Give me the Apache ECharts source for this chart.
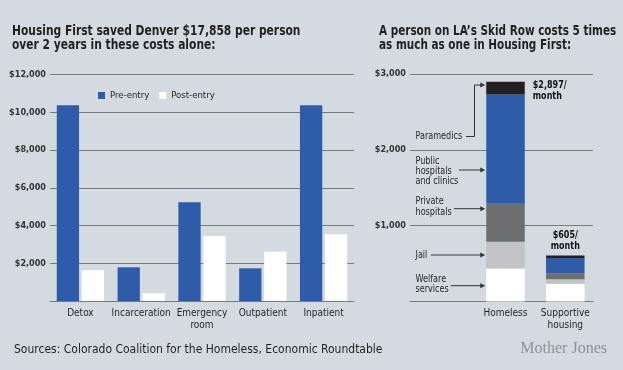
<!DOCTYPE html>
<html>
<head>
<meta charset="utf-8">
<script src="https://cdn.jsdelivr.net/npm/echarts@6/dist/echarts.min.js"></script>
<style>
html,body{margin:0;padding:0;background:#d3dbe1;}
#c{width:623px;height:370px;}
</style>
</head>
<body>
<div id="c"></div>
<script>
// ---- Data ----
const denverCategories = ['Detox', 'Incarceration', 'Emergency\nroom', 'Outpatient', 'Inpatient'];
const preEntry = [10370, 1785, 5230, 1730, 10370];
const postEntry = [1630, 410, 3445, 2610, 3532];

const laCategories = ['Homeless', 'Supportive\nhousing'];
const welfareServices = [434, 233];
const jail = [355, 62];
const privateHospitals = [500, 79];
const publicHospitals = [1440, 201];
const paramedics = [168, 30];
const monthlyTotals = [2897, 605];

// ---- Styles ----
const FONT = "'DejaVu Sans Condensed','Liberation Sans Narrow','Open Sans',sans-serif";
const INK = '#231f20';
const GRIDC = '#767b80';
const BLUE = '#2e5ca8';
const LA_BAR = 38.5;

function money(v) { return v === 0 ? '' : '$' + v.toLocaleString('en-US'); }

const chart = echarts.init(document.getElementById('c'), null, {renderer: 'canvas'});

const valueAxisCommon = {
  axisLine: {show: false},
  axisTick: {show: false},
  splitLine: {lineStyle: {color: GRIDC, width: 1}},
  axisLabel: {formatter: money, color: '#333', fontFamily: FONT, fontWeight: 'bold', fontSize: 9, margin: 4}
};
const catLabel = {color: INK, fontFamily: FONT, fontSize: 10, margin: 6, lineHeight: 12, interval: 0};

const option = {
  backgroundColor: '#d3dbe1',
  animation: false,
  legend: {
    data: ['Pre-entry', 'Post-entry'], left: 98, top: 90.5, padding: 0, icon: 'rect', itemWidth: 7, itemHeight: 7, itemGap: 10,
    textStyle: {fontFamily: FONT, fontSize: 9.5, color: INK}
  },
  grid: [
    {left: 50, top: 74.5, width: 304, height: 226.5},
    {left: 410, top: 74, width: 183, height: 227.5},
    {left: 475.6, top: 74, width: 119.6, height: 227.5}
  ],
  xAxis: [
    {gridIndex: 0, type: 'category', data: denverCategories,
     axisLine: {lineStyle: {color: GRIDC}}, axisTick: {show: false}, axisLabel: catLabel},
    {gridIndex: 1, type: 'category', data: [''],
     axisLine: {lineStyle: {color: GRIDC}}, axisTick: {show: false}, axisLabel: {show: false}},
    {gridIndex: 2, type: 'category', data: laCategories,
     axisLine: {show: false}, axisTick: {show: false}, axisLabel: catLabel}
  ],
  yAxis: [
    Object.assign({gridIndex: 0, type: 'value', min: 0, max: 12000, interval: 2000}, valueAxisCommon),
    Object.assign({gridIndex: 1, type: 'value', min: 0, max: 3000, interval: 1000}, valueAxisCommon),
    {gridIndex: 2, type: 'value', min: 0, max: 3000, interval: 1000, show: false}
  ],
  series: [
    {name: 'Pre-entry', type: 'bar', xAxisIndex: 0, yAxisIndex: 0, data: preEntry,
     barWidth: 22.3, barGap: '12%', itemStyle: {color: BLUE}},
    {name: 'Post-entry', type: 'bar', xAxisIndex: 0, yAxisIndex: 0, data: postEntry,
     barWidth: 22.3, barGap: '12%', itemStyle: {color: '#ffffff'}},
    {name: 'Welfare services', type: 'bar', stack: 'la', xAxisIndex: 2, yAxisIndex: 2, data: welfareServices,
     barWidth: LA_BAR, itemStyle: {color: '#ffffff'}},
    {name: 'Jail', type: 'bar', stack: 'la', xAxisIndex: 2, yAxisIndex: 2, data: jail,
     barWidth: LA_BAR, itemStyle: {color: '#c1c3c6'}},
    {name: 'Private hospitals', type: 'bar', stack: 'la', xAxisIndex: 2, yAxisIndex: 2, data: privateHospitals,
     barWidth: LA_BAR, itemStyle: {color: '#6d6e70'}},
    {name: 'Public hospitals and clinics', type: 'bar', stack: 'la', xAxisIndex: 2, yAxisIndex: 2, data: publicHospitals,
     barWidth: LA_BAR, itemStyle: {color: BLUE}},
    {name: 'Paramedics', type: 'bar', stack: 'la', xAxisIndex: 2, yAxisIndex: 2, data: paramedics,
     barWidth: LA_BAR, itemStyle: {color: INK}}
  ]
};
chart.setOption(option);

// ---- Text & annotations ----
function T(text, x, y, o) {
  o = o || {};
  return {type: 'text', x: x, y: y, scaleX: o.scaleX || 1, z: 10,
    style: {text: text, fontFamily: o.fontFamily || FONT, fontSize: o.fontSize || 10, fontWeight: o.fontWeight || 'normal',
      fill: o.fill || INK, align: o.align || 'left', verticalAlign: 'middle', lineHeight: o.lineHeight || 10}};
}
const els = [];
const titleOpt = {fontSize: 14.5, fontWeight: 'bold', scaleX: 0.82};
const titleOptR = {fontSize: 14.5, fontWeight: 'bold', scaleX: 0.80};
els.push(T('Housing First saved Denver $17,858 per person', 12, 31.5, titleOpt));
els.push(T('over 2 years in these costs alone:', 12, 45.5, titleOpt));
els.push(T('A person on LA\u2019s Skid Row costs 5 times', 379, 31.5, titleOptR));
els.push(T('as much as one in Housing First:', 379, 45.5, titleOptR));

// totals above the LA bars, positioned through the axes
laCategories.forEach(function (cat, i) {
  const p = chart.convertToPixel({xAxisIndex: 2, yAxisIndex: 2}, [i, monthlyTotals[i]]);
  const txt = '$' + monthlyTotals[i].toLocaleString('en-US') + '/\nmonth';
  const o = {fontSize: 10.5, scaleX: 0.85, lineHeight: 11, fill: '#111', fontWeight: 'bold'};
  if (i === 0) {
    els.push(T(txt, p[0] + LA_BAR / 2 + 8, p[1] + 8.5, o));
  } else {
    o.align = 'center';
    els.push(T(txt, p[0], p[1] - 15, o));
  }
});

const barCenter = chart.convertToPixel({xAxisIndex: 2}, 'Homeless');
const barLeft = barCenter - LA_BAR / 2;
function arrow(points) {
  const last = points[points.length - 1];
  const tip = [barLeft - 1, last[1]];
  const pts = points.concat([[tip[0] - 3, tip[1]]]);
  return [
    {type: 'polyline', shape: {points: pts}, style: {stroke: '#333', lineWidth: 1, fill: null}, z: 10},
    {type: 'polygon', shape: {points: [tip, [tip[0] - 5, tip[1] - 2.5], [tip[0] - 5, tip[1] + 2.5]]},
     style: {fill: '#333'}, z: 10}
  ];
}
const ann = {fontSize: 10, scaleX: 0.9};
els.push(T('Paramedics', 415.5, 136, ann));
els.push.apply(els, arrow([[466, 136.5], [474.5, 136.5], [474.5, 85]]));
els.push(T('Public\nhospitals\nand clinics', 415.5, 171.7, ann));
els.push.apply(els, arrow([[459, 170]]));
els.push(T('Private\nhospitals', 415.5, 207, Object.assign({lineHeight: 10.6}, ann)));
els.push.apply(els, arrow([[454, 208.7]]));
els.push(T('Jail', 415.5, 255, ann));
els.push.apply(els, arrow([[431, 255]]));
els.push(T('Welfare\nservices', 415.5, 284.7, ann));
els.push.apply(els, arrow([[450.7, 285.7]]));

els.push(T('Sources: Colorado Coalition for the Homeless, Economic Roundtable', 14, 350, {fontSize: 12}));
els.push(T('Mother Jones', 607, 349, {fontFamily: "'Liberation Serif','DejaVu Serif',serif", fontSize: 16,
  fill: '#8c9196', align: 'right'}));
chart.setOption({graphic: {elements: els}});
</script>
</body>
</html>
